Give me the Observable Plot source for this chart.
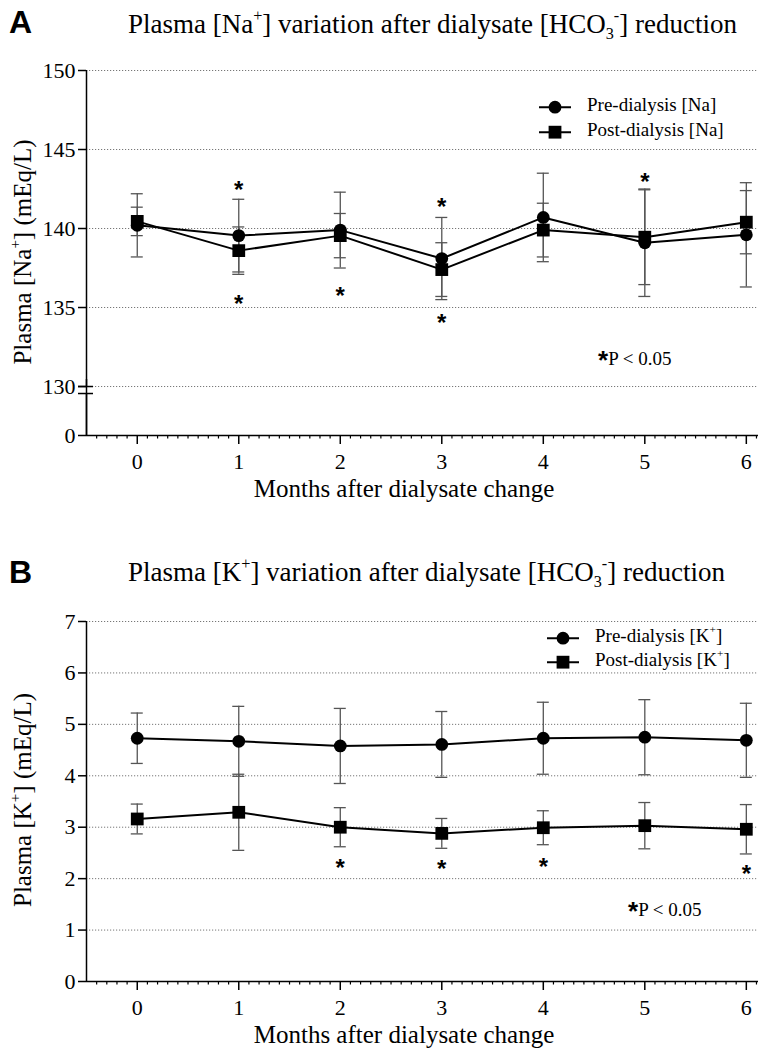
<!DOCTYPE html>
<html><head><meta charset="utf-8">
<script src="https://cdn.jsdelivr.net/npm/d3@7"></script>
<script src="https://cdn.jsdelivr.net/npm/@observablehq/plot@0.6"></script>
<style>
body{margin:0;background:#fff;}
#root{position:relative;width:760px;height:1056px;overflow:hidden;font-family:"Liberation Serif","Times New Roman",serif;color:#000;}
#root svg{position:absolute;left:0;}
.abs{position:absolute;white-space:nowrap;line-height:1;}
.title{font-size:27px;}
.panel{font-family:"Liberation Sans",Arial,sans-serif;font-weight:bold;font-size:32px;}
.ylab{font-size:25px;transform:translate(-50%,-50%) rotate(-90deg);}
.xlab{font-size:25px;transform:translate(-50%,-50%);}
sup,sub{font-size:0.6em;vertical-align:0;position:relative;}
sup{top:-0.75em;} sub{top:0.35em;}
.leg{font-size:19px;transform:translateY(-50%);}
.star{font-family:"Liberation Sans",Arial,sans-serif;font-weight:bold;font-size:26px;position:relative;top:4px;}
.note{font-size:19px;transform:translateY(-50%);}
</style>
</head><body><div id="root"></div>
<script>
// ---- data ----
const months = [0, 1, 2, 3, 4, 5, 6];
const monthTicks = [0, 1, 2, 3, 4, 5, 6];

// Panel A: plasma Na (mEq/L), mean and SD
const naPre    = [140.2, 139.55, 139.9, 138.1, 140.7, 139.1, 139.6];
const naPreSd  = [2.0, 2.3, 2.4, 2.6, 2.8, 3.4, 3.3];
const naPost   = [140.45, 138.6, 139.55, 137.4, 139.9, 139.45, 140.4];
const naPostSd = [0.9, 1.5, 1.4, 1.7, 1.7, 3.0, 2.0];
const naStarMonths = [1, 1, 2, 3, 3, 5];
const naStarValues = [142.8, 135.6, 136.1, 141.7, 134.4, 143.3];
const naTicks = [0, 130, 135, 140, 145, 150];
const naGrid = [130, 135, 140, 145, 150];

// Panel B: plasma K (mEq/L), mean and SD
const kPre    = [4.73, 4.67, 4.58, 4.61, 4.73, 4.75, 4.69];
const kPreSd  = [0.49, 0.68, 0.73, 0.64, 0.70, 0.73, 0.72];
const kPost   = [3.16, 3.29, 3.0, 2.88, 2.99, 3.03, 2.96];
const kPostSd = [0.29, 0.74, 0.38, 0.29, 0.33, 0.45, 0.48];
const kStarMonths = [2, 3, 4, 6];
const kStarValues = [2.32, 2.29, 2.33, 2.2];
const kTicks = [0, 1, 2, 3, 4, 5, 6, 7];
const kGrid = [1, 2, 3, 4, 5, 6, 7];

// ---- helpers ----
const xDomain = [-0.5, 6.12];
const xMin = xDomain[0];
const minorTicks = d3.range(-4, 62).map(d => d / 10).filter(d => Math.abs(d - Math.round(d)) > 1e-9);

// broken axis for panel A: values from 0 to 130 are compressed into a short segment
const naBreakLow = 130, naBreakFloor = 126.9;
const naY = v => v >= naBreakLow ? v : naBreakFloor + v * (naBreakLow - naBreakFloor) / naBreakLow;
const idY = v => v;

function table(pre, preSd, post, postSd) {
  return months.map((m, i) => ({month: m, pre: pre[i], preSd: preSd[i], post: post[i], postSd: postSd[i]}));
}
function stars(ms, vs) { return ms.map((m, i) => ({month: m, value: vs[i]})); }

const ebColor = "#555";
function seriesMarks(data, key, sdKey) {
  const lo = d => d[key] - d[sdKey], hi = d => d[key] + d[sdKey];
  return [
    Plot.ruleX(data, {x: "month", y1: lo, y2: hi, stroke: ebColor, strokeWidth: 1.3}),
    Plot.ruleY(data, {y: hi, x1: "month", x2: "month", insetLeft: -6, insetRight: -6, stroke: ebColor, strokeWidth: 1.3}),
    Plot.ruleY(data, {y: lo, x1: "month", x2: "month", insetLeft: -6, insetRight: -6, stroke: ebColor, strokeWidth: 1.3})
  ];
}
function axisMarks(yTicks, grid, fy) {
  return [
    Plot.ruleY(grid, {y: fy, stroke: "#777", strokeWidth: 1, strokeDasharray: "1.2,1.8"}),
    Plot.ruleY(yTicks, {y: fy, x1: xMin, x2: xMin, insetLeft: -8, stroke: "#000", strokeWidth: 1.5}),
    Plot.text(yTicks, {x: xMin, y: fy, text: d => String(d), textAnchor: "end", dx: -11, fontSize: 22}),
    Plot.ruleY([0], {y: fy, stroke: "#000", strokeWidth: 1.6}),
    Plot.ruleX(minorTicks, {y1: fy(0), y2: fy(0), insetBottom: -3.5, stroke: "#000", strokeWidth: 1.2}),
    Plot.ruleX(monthTicks, {y1: fy(0), y2: fy(0), insetBottom: -9, stroke: "#000", strokeWidth: 1.5}),
    Plot.text(monthTicks, {x: d => d, y: fy(0), dy: 26, text: d => String(d), fontSize: 22})
  ];
}
function dataMarks(data, starData) {
  return [
    Plot.line(data, {x: "month", y: "pre", stroke: "#000", strokeWidth: 2}),
    Plot.line(data, {x: "month", y: "post", stroke: "#000", strokeWidth: 2}),
    ...seriesMarks(data, "pre", "preSd"),
    ...seriesMarks(data, "post", "postSd"),
    Plot.dot(data, {x: "month", y: "pre", r: 6.4, fill: "#000", stroke: "none", symbol: "circle"}),
    Plot.dot(data, {x: "month", y: "post", r: 7.2, fill: "#000", stroke: "none", symbol: "square"}),
    Plot.text(starData, {x: "month", y: "value", text: () => "*", fontSize: 24, fontWeight: "bold", fontFamily: '"Liberation Sans", Arial, sans-serif', dy: 6})
  ];
}
const style = {fontFamily: '"Liberation Serif", "Times New Roman", serif', fontSize: "22px", background: "transparent", overflow: "visible", color: "#000"};

const naData = table(naPre, naPreSd, naPost, naPostSd);
const kData = table(kPre, kPreSd, kPost, kPostSd);

const plotA = Plot.plot({
  width: 760, height: 510, marginLeft: 86, marginRight: 2, marginTop: 70, marginBottom: 75,
  style,
  x: {domain: xDomain, axis: null},
  y: {domain: [naY(0), 150], axis: null},
  marks: [
    ...axisMarks(naTicks, naGrid, naY),
    // broken axis
    Plot.ruleX([xMin], {y1: naY(130), y2: 150, stroke: "#000", strokeWidth: 1.5}),
    Plot.ruleX([xMin], {y1: naY(0), y2: naY(130), insetBottom: 7, stroke: "#000", strokeWidth: 1.5}),
    Plot.ruleX([xMin], {y1: naY(130), y2: naY(0), insetTop: 7, stroke: "#000", strokeWidth: 1.5}),
    Plot.ruleY([130], {y: naY, x1: xMin, x2: xMin, insetLeft: -8, insetRight: -7, stroke: "#000", strokeWidth: 1.5}),
    Plot.ruleY([130], {y: naY, x1: xMin, x2: xMin, insetLeft: -8, insetRight: -7, dy: 7, stroke: "#000", strokeWidth: 1.5}),
    ...dataMarks(naData, stars(naStarMonths, naStarValues))
  ]
});

const plotB = Plot.plot({
  width: 760, height: 526, marginLeft: 86, marginRight: 2, marginTop: 91, marginBottom: 75,
  style,
  x: {domain: xDomain, axis: null},
  y: {domain: [0, 7], axis: null},
  marks: [
    ...axisMarks(kTicks, kGrid, idY),
    Plot.ruleX([xMin], {y1: 0, y2: 7, stroke: "#000", strokeWidth: 1.5}),
    ...dataMarks(kData, stars(kStarMonths, kStarValues))
  ]
});

const root = document.getElementById("root");
plotA.style.top = "0px";
plotB.style.top = "530px";
root.appendChild(plotA);
root.appendChild(plotB);

function legendSym(shape) {
  const m = shape === "circle"
    ? '<circle cx="16" cy="8" r="6.4" fill="#000"/>'
    : '<rect x="9.6" y="1.6" width="12.8" height="12.8" fill="#000"/>';
  return '<svg width="32" height="16" style="position:static;vertical-align:middle"><line x1="0" y1="8" x2="32" y2="8" stroke="#000" stroke-width="2"/>' + m + '</svg>';
}
const html = `
<div class="abs panel" style="left:9px;top:6px">A</div>
<div class="abs title" style="left:128px;top:11px">Plasma [Na<sup>+</sup>] variation after dialysate [HCO<sub>3</sub><sup>-</sup>] reduction</div>
<div class="abs ylab" style="left:22px;top:252px">Plasma [Na<sup>+</sup>] (mEq/L)</div>
<div class="abs xlab" style="left:404px;top:488px">Months after dialysate change</div>
<div class="abs leg" style="left:539px;top:105px">${legendSym("circle")}<span style="margin-left:16px">Pre-dialysis [Na]</span></div>
<div class="abs leg" style="left:539px;top:130px">${legendSym("square")}<span style="margin-left:16px">Post-dialysis [Na]</span></div>
<div class="abs note" style="left:598px;top:356px"><span class="star">*</span>P &lt; 0.05</div>

<div class="abs panel" style="left:9px;top:556px">B</div>
<div class="abs title" style="left:128px;top:559px">Plasma [K<sup>+</sup>] variation after dialysate [HCO<sub>3</sub><sup>-</sup>] reduction</div>
<div class="abs ylab" style="left:22px;top:800px">Plasma [K<sup>+</sup>] (mEq/L)</div>
<div class="abs xlab" style="left:404px;top:1034px">Months after dialysate change</div>
<div class="abs leg" style="left:547px;top:636px">${legendSym("circle")}<span style="margin-left:16px">Pre-dialysis [K<sup>+</sup>]</span></div>
<div class="abs leg" style="left:547px;top:660px">${legendSym("square")}<span style="margin-left:16px">Post-dialysis [K<sup>+</sup>]</span></div>
<div class="abs note" style="left:628px;top:907px"><span class="star">*</span>P &lt; 0.05</div>
`;
root.insertAdjacentHTML("beforeend", html);
</script>
</body></html>
